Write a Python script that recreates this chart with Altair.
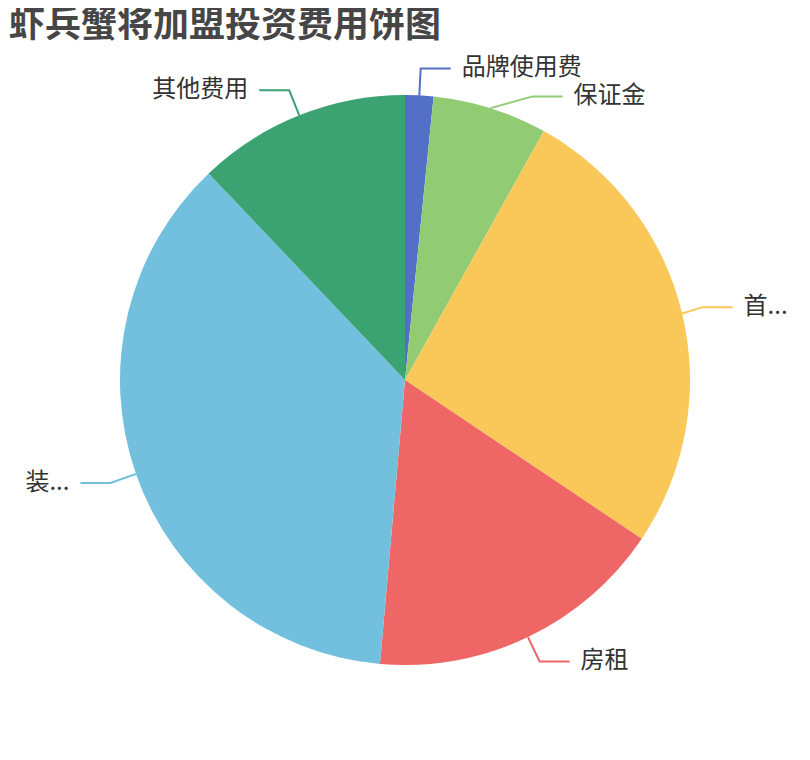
import altair as alt
import pandas as pd

# ---- data ----
names = ["品牌使用费", "保证金", "首...", "房租", "装...", "其他费用"]
values = [1.6, 6.5, 26.3, 17.0, 36.5, 12.1]
colors = ["#5470c6", "#91cc75", "#fac858", "#ee6666", "#73c0de", "#3ba272"]
title_text = "虾兵蟹将加盟投资费用饼图"

# ---- layout constants ----
W, H = 790, 736
CX, CY = 397, 372          # pie centre inside the chart
R = 285                    # pie radius
R_ELBOW = 312              # radius of label-line elbow
RA = 306                   # horizontal radius used when a side's labels get re-aligned
LEN2 = 30                  # horizontal part of label line
GAP = 11                   # gap between line and text
LINE_H = 28                # min vertical distance between labels
FONT = "Noto Sans CJK SC"

df = pd.DataFrame({"name": names, "value": values, "order": list(range(len(names)))})

xs = alt.Scale(domain=[0, W], nice=False, zero=False)
ys = alt.Scale(domain=[0, H], nice=False, zero=False, reverse=True)
color = alt.Color("name:N", scale=alt.Scale(domain=names, range=colors), legend=None)

base = alt.Chart(df).transform_joinaggregate(
    total="sum(value)"
).transform_window(
    cum="sum(value)", sort=[alt.SortField("order")], frame=[None, 0]
).transform_calculate(
    mid="((datum.cum - datum.value/2) / datum.total) * 2 * PI"
).transform_calculate(
    side="sin(datum.mid) >= 0 ? 1 : -1",
    ex=f"{CX} + {R} * sin(datum.mid)",
    ey=f"{CY} - {R} * cos(datum.mid)",
    ny=f"{CY} - {R_ELBOW} * cos(datum.mid)",
).transform_window(
    prev_ny="lag(ny)", prev_side="lag(side)", sort=[alt.SortField("order")]
).transform_calculate(
    ay=(
        f"(datum.side == 1 && datum.prev_side == 1) ? max(datum.ny, datum.prev_ny + {LINE_H}) : "
        f"((datum.side == -1 && datum.prev_side == -1) ? min(datum.ny, datum.prev_ny - {LINE_H}) : datum.ny)"
    )
).transform_calculate(
    dy=f"abs(datum.ay - {CY})",
    dxn=f"{R_ELBOW} * abs(sin(datum.mid))",
    shifted="datum.ay != datum.ny ? 1 : 0",
    semi=f"datum.side * 10 + (datum.ay < {CY} ? 1 : 0)",
).transform_joinaggregate(
    anyShift="max(shifted)", maxdy="max(dy)", groupby=["semi"]
).transform_calculate(
    topdx="datum.dy == datum.maxdy ? datum.dxn : 0"
).transform_joinaggregate(
    topdx_s="max(topdx)", groupby=["semi"]
).transform_calculate(
    rB=f"datum.maxdy / sqrt(max(1 - pow(datum.topdx_s / {RA}, 2), 0.000001))"
).transform_calculate(
    ax=(
        f"datum.anyShift == 1 ? "
        f"{CX} + datum.side * {RA} * sqrt(max(1 - pow(datum.dy / datum.rB, 2), 0)) : "
        f"{CX} + datum.side * sqrt(max({R_ELBOW}*{R_ELBOW} - datum.dy*datum.dy, 0))"
    )
).transform_calculate(
    hx=f"datum.ax + datum.side * {LEN2}"
).transform_calculate(
    tx=f"datum.hx + datum.side * {GAP}"
)

pie = alt.Chart(df).mark_arc(stroke=None).encode(
    theta=alt.Theta("value:Q", stack=True),
    order=alt.Order("order:Q"),
    color=color,
    radius=alt.value(R),
    x=alt.value(CX),
    y=alt.value(CY),
)

lines = base.transform_fold(
    ["p0", "p1", "p2"], as_=["k", "dummy"]
).transform_calculate(
    lx="datum.k == 'p0' ? datum.ex : (datum.k == 'p1' ? datum.ax : datum.hx)",
    ly="datum.k == 'p0' ? datum.ey : datum.ay",
    ki="datum.k == 'p0' ? 0 : (datum.k == 'p1' ? 1 : 2)",
).mark_line(strokeWidth=2, strokeJoin="miter").encode(
    x=alt.X("lx:Q", scale=xs, axis=None),
    y=alt.Y("ly:Q", scale=ys, axis=None),
    detail="name:N",
    order=alt.Order("ki:Q"),
    color=color,
)

text_right = base.transform_filter("datum.side == 1").mark_text(
    align="left", baseline="middle", font=FONT, fontSize=24, color="#333333"
).encode(
    x=alt.X("tx:Q", scale=xs, axis=None),
    y=alt.Y("ay:Q", scale=ys, axis=None),
    text="name:N",
)

text_left = base.transform_filter("datum.side == -1").mark_text(
    align="right", baseline="middle", font=FONT, fontSize=24, color="#333333"
).encode(
    x=alt.X("tx:Q", scale=xs, axis=None),
    y=alt.Y("ay:Q", scale=ys, axis=None),
    text="name:N",
)

title = alt.Chart(pd.DataFrame({"t": [title_text]})).mark_text(
    align="left", baseline="middle", font=FONT, fontSize=36, fontWeight="bold", color="#464646"
).encode(
    x=alt.value(1),
    y=alt.value(18),
    text="t:N",
)

chart = alt.layer(pie, lines, text_right, text_left, title).properties(
    width=W, height=H, padding=0, autosize=alt.AutoSizeParams(type="none")
).configure_view(stroke=None)

chart.save("out.html", embed_options={"renderer": "svg", "actions": False})
